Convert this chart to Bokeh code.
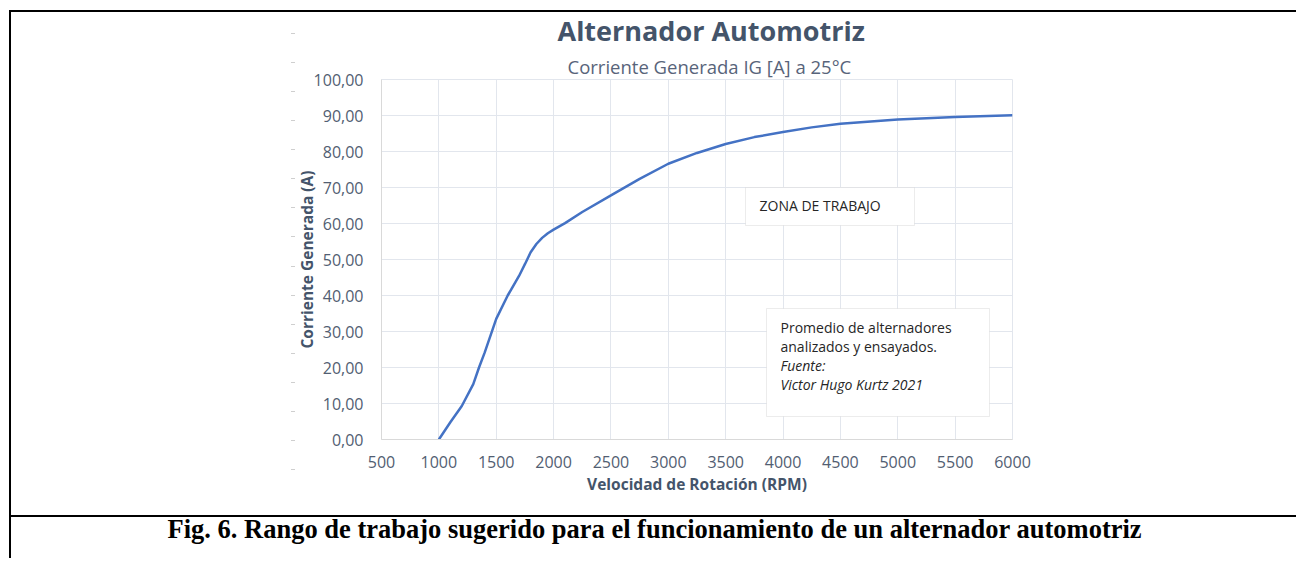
from bokeh.plotting import figure
from bokeh.models import Range1d, FixedTicker, Label, BoxAnnotation, Title
from bokeh.embed import file_html
from bokeh.resources import INLINE

# ---- data ----
rpm = [1000, 1100, 1200, 1300, 1350, 1400, 1500, 1600, 1700, 1750, 1800, 1850, 1900, 1950, 2000,
       2100, 2250, 2500, 2750, 3000, 3250, 3500, 3750, 4000, 4250, 4500, 5000, 5500, 6000]
amps = [0.0, 4.8, 9.3, 15.4, 20.0, 24.2, 33.5, 40.0, 45.5, 48.7, 52.0, 54.3, 56.0, 57.3, 58.3,
        60.1, 63.2, 67.8, 72.4, 76.6, 79.6, 82.1, 84.0, 85.4, 86.7, 87.7, 88.9, 89.6, 90.1]

x_ticks = [500, 1000, 1500, 2000, 2500, 3000, 3500, 4000, 4500, 5000, 5500, 6000]
y_ticks = [0, 10, 20, 30, 40, 50, 60, 70, 80, 90, 100]
y_tick_labels = ["0,00", "10,00", "20,00", "30,00", "40,00", "50,00",
                 "60,00", "70,00", "80,00", "90,00", "100,00"]

title_text = "Alternador Automotriz"
subtitle_text = "Corriente Generada IG [A] a 25°C"
x_label = "Velocidad de Rotación (RPM)"
y_label = "Corriente Generada (A)"
zona_text = "ZONA DE TRABAJO"
note_lines = ["Promedio de alternadores", "analizados y ensayados.", "Fuente:", "Victor Hugo Kurtz 2021"]
note_styles = ["normal", "normal", "italic", "italic"]
caption_text = "Fig. 6.  Rango de trabajo sugerido para el funcionamiento de un alternador automotriz"

# ---- layout ----
W, H = 1296, 558
FL, FT, FR, FB = 381, 79, 1012, 439   # frame edges inside the figure (page px)

TEXT_C = "#44546A"
TICK_C = "#525E72"
GRID_C = "#E2E6ED"
FONT = "Open Sans"

p = figure(width=W, height=H, x_range=Range1d(500, 6000), y_range=Range1d(0, 100),
           output_backend="svg", toolbar_location=None,
           min_border_left=FL, min_border_right=W - FR,
           min_border_top=FT, min_border_bottom=H - FB)
p.background_fill_color = "white"
p.border_fill_alpha = 0.0
p.outline_line_color = GRID_C

# page rules (document frame lines) and faint margin dashes, drawn as CSS backgrounds
p.styles = {
    "background-image": ("linear-gradient(#000,#000), linear-gradient(#000,#000), "
                         "linear-gradient(#000,#000), "
                         "repeating-linear-gradient(to bottom, #CFCFCF 0px, #CFCFCF 1px, "
                         "transparent 1px, transparent 29.07px)"),
    "background-position": "9px 10px, 9px 10px, 9px 515px, 291px 33px",
    "background-size": "calc(100% - 9px) 2px, 2px 100%, calc(100% - 9px) 2px, 4px 438px",
    "background-repeat": "no-repeat",
}

p.xaxis.ticker = FixedTicker(ticks=x_ticks)
p.yaxis.ticker = FixedTicker(ticks=y_ticks)
p.yaxis.major_label_overrides = {t: l for t, l in zip(y_ticks, y_tick_labels)}
p.xgrid.ticker = FixedTicker(ticks=x_ticks)
p.ygrid.ticker = FixedTicker(ticks=y_ticks)
for g in (p.xgrid, p.ygrid):
    g.grid_line_color = GRID_C
    g.grid_line_width = 1

for ax in (p.xaxis, p.yaxis):
    ax.axis_line_color = "#D9D9D9"
    ax.major_tick_line_color = None
    ax.minor_tick_line_color = None
    ax.major_tick_out = 0
    ax.major_tick_in = 0
    ax.major_label_text_font = FONT
    ax.major_label_text_font_size = "16px"
    ax.major_label_text_color = TICK_C
    ax.axis_label_text_font = FONT
    ax.axis_label_text_font_style = "bold"
    ax.axis_label_text_font_size = "15.5px"
    ax.axis_label_text_color = TEXT_C

p.xaxis.axis_label = x_label
p.yaxis.axis_label = y_label
p.xaxis.major_label_standoff = 16
p.yaxis.major_label_standoff = 18
p.xaxis.axis_label_standoff = 2
p.yaxis.axis_label_standoff = -7

p.line(rpm, amps, line_color="#4472C4", line_width=2.5)

# chart titles: main title on top, subtitle closest to the frame
p.title.text = title_text
p.title.align = "left"
p.title.offset = 176
p.title.standoff = 3
p.title.text_font = FONT
p.title.text_font_style = "bold"
p.title.text_font_size = "27px"
p.title.text_color = TEXT_C
p.add_layout(Title(text=subtitle_text, align="left", offset=186, standoff=2,
                   text_font=FONT, text_font_style="normal", text_font_size="18.5px",
                   text_color="#58647A"), "above")

# caption below the chart
p.add_layout(Title(text=caption_text, align="left", offset=-214, standoff=29,
                   text_font="Liberation Serif", text_font_style="bold",
                   text_font_size="26.5px", text_color="black"), "below")


def sx(px):
    return px - FL


def sy(py):
    return FB - py


# text boxes inside the plot area
p.add_layout(BoxAnnotation(left=sx(745), right=sx(914), top=sy(187), bottom=sy(225),
                           left_units="screen", right_units="screen",
                           top_units="screen", bottom_units="screen",
                           fill_color="white", fill_alpha=1.0,
                           line_color="#BFBFBF", line_width=1))
p.add_layout(Label(x=sx(759), y=sy(205), x_units="screen", y_units="screen", text=zona_text,
                   text_align="left", text_baseline="middle", text_font=FONT,
                   text_font_size="14px", text_color="#262626"))

p.add_layout(BoxAnnotation(left=sx(766), right=sx(989), top=sy(308), bottom=sy(416),
                           left_units="screen", right_units="screen",
                           top_units="screen", bottom_units="screen",
                           fill_color="white", fill_alpha=1.0,
                           line_color="#BFBFBF", line_width=1))
for k, (line, style) in enumerate(zip(note_lines, note_styles)):
    p.add_layout(Label(x=sx(780), y=sy(327 + k * 19), x_units="screen", y_units="screen",
                       text=line, text_align="left", text_baseline="middle",
                       text_font=FONT, text_font_style=style,
                       text_font_size="14px", text_color="#262626"))

open("out.html", "w").write(file_html(p, INLINE))
